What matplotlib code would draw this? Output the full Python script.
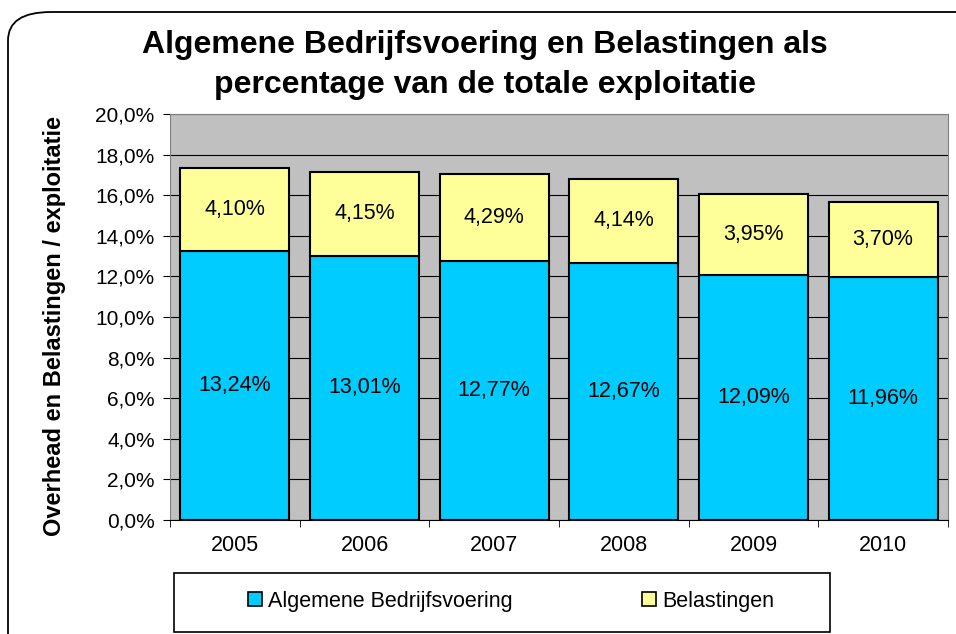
import numpy as np
import matplotlib
matplotlib.use("Agg")
import matplotlib.pyplot as plt
from matplotlib.patches import FancyBboxPatch, Patch, Rectangle

plt.rcParams['font.family'] = ['Liberation Sans', 'DejaVu Sans']

# data
years = ['2005', '2006', '2007', '2008', '2009', '2010']
bedrijfsvoering = [13.24, 13.01, 12.77, 12.67, 12.09, 11.96]
belastingen = [4.10, 4.15, 4.29, 4.14, 3.95, 3.70]
series_names = ['Algemene Bedrijfsvoering', 'Belastingen']
colors = ['#00CCFF', '#FFFF99']
y_ticks = [0, 2, 4, 6, 8, 10, 12, 14, 16, 18, 20]


def nl_pct(v, decimals):
    return f"{v:.{decimals}f}%".replace('.', ',')


W, H = 956, 634
fig = plt.figure(figsize=(W / 100, H / 100), dpi=100)

# rounded chart frame, running off the right and bottom edges
frame = FancyBboxPatch((8 / W, -0.2), 1.2, (H - 12) / H + 0.2,
                       boxstyle="round,pad=0,rounding_size=0.045",
                       transform=fig.transFigure, fill=False,
                       edgecolor='black', linewidth=1.3, zorder=0)
fig.patches.append(frame)

ax = fig.add_axes([170 / W, 1 - 520 / H, 778 / W, 406 / H])
ax.set_facecolor('#C0C0C0')

x = np.arange(len(years))
w = 0.84
ax.bar(x, bedrijfsvoering, w, color=colors[0], edgecolor='black',
       linewidth=1.5, zorder=3)
ax.bar(x, belastingen, w, bottom=bedrijfsvoering, color=colors[1],
       edgecolor='black', linewidth=1.5, zorder=3)

for xi, v in zip(x, bedrijfsvoering):
    ax.text(xi, v / 2, nl_pct(v, 2), ha='center', va='center', fontsize=15.5, zorder=4)
for xi, base, v in zip(x, bedrijfsvoering, belastingen):
    ax.text(xi, base + v / 2, nl_pct(v, 2), ha='center', va='center', fontsize=15.5, zorder=4)

ax.set_xlim(-0.5, len(years) - 0.5)
ax.set_ylim(0, 20)
ax.set_yticks(y_ticks)
ax.set_yticklabels([nl_pct(t, 1) for t in y_ticks], fontsize=15)
ax.yaxis.grid(True, color='black', linewidth=0.8, zorder=1)
ax.set_axisbelow(True)

ax.set_xticks(x)
ax.set_xticklabels(years, fontsize=15.5)
ax.set_xticks(np.arange(len(years) + 1) - 0.5, minor=True)
ax.tick_params(axis='x', which='major', length=0, pad=11)
ax.tick_params(axis='x', which='minor', length=5, color='black')
ax.tick_params(axis='y', length=5, pad=6)

for s in ['top', 'right', 'left']:
    ax.spines[s].set_color('#808080')
ax.spines['bottom'].set_color('black')

fig.text(55 / W, 1 - 326 / H, 'Overhead en Belastingen / exploitatie',
         rotation=90, ha='center', va='center', fontsize=17, fontweight='bold')

fig.text(485 / W, 1 - 65 / H,
         'Algemene Bedrijfsvoering en Belastingen als\npercentage van de totale exploitatie',
         ha='center', va='center', fontsize=23, fontweight='bold', linespacing=1.4)

# legend box
fig.patches.append(Rectangle((174 / W, 1 - 632 / H), 656 / W, 59 / H,
                             transform=fig.transFigure, fill=False,
                             edgecolor='black', linewidth=1.2))
handles = [Patch(facecolor=c, edgecolor='black', linewidth=1.2) for c in colors]
fig.legend(handles, series_names, loc='center',
           bbox_to_anchor=(511 / W, 1 - 601 / H), ncol=2,
           fontsize=15.5, frameon=False,
           handlelength=0.65, handleheight=0.65, handletextpad=0.3,
           columnspacing=6.0)

fig.savefig('out.png', dpi=100)
